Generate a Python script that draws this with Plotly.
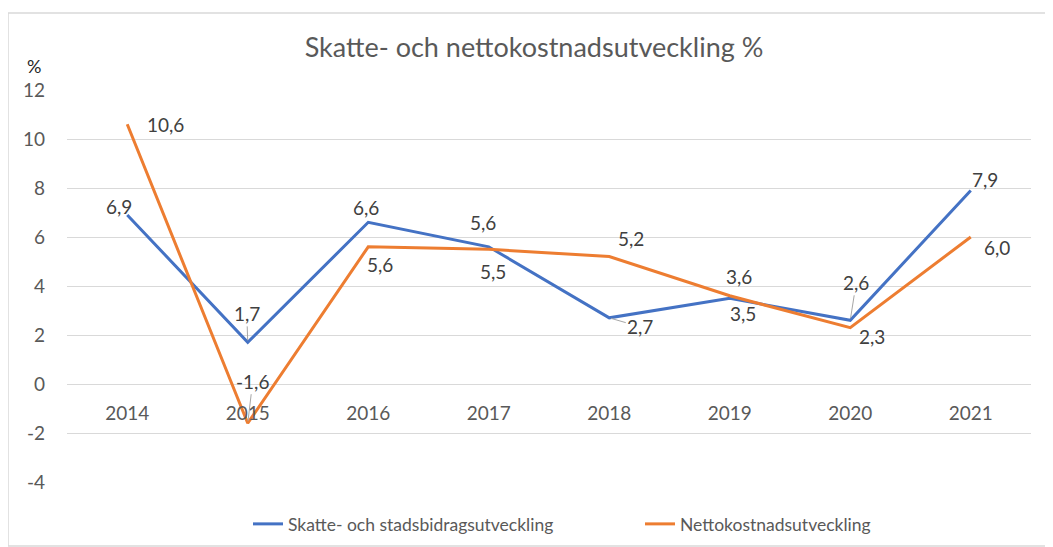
import plotly.graph_objects as go

years = ["2014", "2015", "2016", "2017", "2018", "2019", "2020", "2021"]
skatte = [6.9, 1.7, 6.6, 5.6, 2.7, 3.5, 2.6, 7.9]
netto = [10.6, -1.6, 5.6, 5.5, 5.2, 3.6, 2.3, 6.0]
y_ticks = [-4, -2, 0, 2, 4, 6, 8, 10, 12]

name_skatte = "Skatte- och stadsbidragsutveckling"
name_netto = "Nettokostnadsutveckling"

BLUE = "#4472C4"
ORANGE = "#ED7D31"
TXT = "#595959"
FONT = "Lato"

# label offsets in px (dx, dy_down, leader)
off_skatte = [(-8, -8, False), (-1, -29, True), (-2, -15, False), (-6, -24, False),
              (31, 9, True), (13, 15, False), (6, -38, True), (14, -11, False)]
off_netto = [(38, 0, False), (5, -42, True), (12, 18, False), (4, 22, False),
             (22, -18, False), (9, -19, False), (22, 9, False), (26, 10, False)]

fig = go.Figure()
fig.add_trace(go.Scatter(x=years, y=skatte, mode="lines", name=name_skatte,
                         line=dict(color=BLUE, width=3)))
fig.add_trace(go.Scatter(x=years, y=netto, mode="lines", name=name_netto,
                         line=dict(color=ORANGE, width=3)))

def fmt(v):
    return f"{v:.1f}".replace(".", ",")

anns = []
for series, offs in ((skatte, off_skatte), (netto, off_netto)):
    for i, (v, (dx, dy, leader)) in enumerate(zip(series, offs)):
        if leader:
            anns.append(dict(x=i, y=v, xref="x", yref="y", text=fmt(v), showarrow=True,
                             ax=dx, ay=dy, arrowhead=0, arrowwidth=1, arrowcolor="#A6A6A6",
                             standoff=2, font=dict(family=FONT, size=19, color="#404040")))
        else:
            anns.append(dict(x=i, y=v, xref="x", yref="y", text=fmt(v), showarrow=False,
                             xshift=dx, yshift=-dy,
                             font=dict(family=FONT, size=19, color="#404040")))

# page body has an 8px margin; figure is offset by (8, 8)
O = 8
W, H = 1053 - O, 547 - O
L, R, T, B = 67 - O, 22, 90 - O, 65
pw, ph = W - L - R, H - T - B
def px(p):
    return (p - O - L) / pw
def py(q):
    return (H - B - (q - O)) / ph

anns.append(dict(x=px(34), y=py(66), xref="paper", yref="paper", text="%", showarrow=False,
                 xanchor="center", yanchor="middle",
                 font=dict(family=FONT, size=18, color="#262626")))

fig.update_layout(
    width=W, height=H,
    margin=dict(l=L, r=R, t=T, b=B, autoexpand=False),
    paper_bgcolor="white", plot_bgcolor="white",
    font=dict(family=FONT, color=TXT),
    title=dict(text="Skatte- och nettokostnadsutveckling %", x=(534 - O) / W,
               y=1 - (48 - O) / H,
               xanchor="center", yanchor="middle", xref="container", yref="container",
               font=dict(family=FONT, size=27, color=TXT)),
    showlegend=True,
    legend=dict(orientation="h", x=(248 - O) / W, y=1 - (524 - O) / H,
                xref="container", yref="container",
                xanchor="left", yanchor="middle",
                font=dict(family=FONT, size=17.5, color=TXT), entrywidth=347,
                entrywidthmode="pixels"),
    annotations=anns,
    shapes=[dict(type="rect", xref="paper", yref="paper", x0=px(8), x1=px(1047),
                 y0=py(546), y1=py(13), line=dict(color="#D9D9D9", width=1.5),
                 fillcolor="rgba(0,0,0,0)", layer="below")],
    xaxis=dict(type="category", anchor="free", position=4 / 16, showgrid=False,
               showline=False, ticks="", ticklabelstandoff=16, automargin=False,
               tickfont=dict(family=FONT, size=19, color=TXT), range=[-0.5, 7.5]),
    yaxis=dict(range=[-4, 12], tickvals=y_ticks, ticktext=[str(t) for t in y_ticks],
               showgrid=True, gridcolor="#D9D9D9", gridwidth=1, zeroline=True,
               zerolinecolor="#D9D9D9", zerolinewidth=1, showline=False, ticks="",
               ticklabelstandoff=21, automargin=False,
               tickfont=dict(family=FONT, size=19, color=TXT)),
)

fig.write_html("out.html")
